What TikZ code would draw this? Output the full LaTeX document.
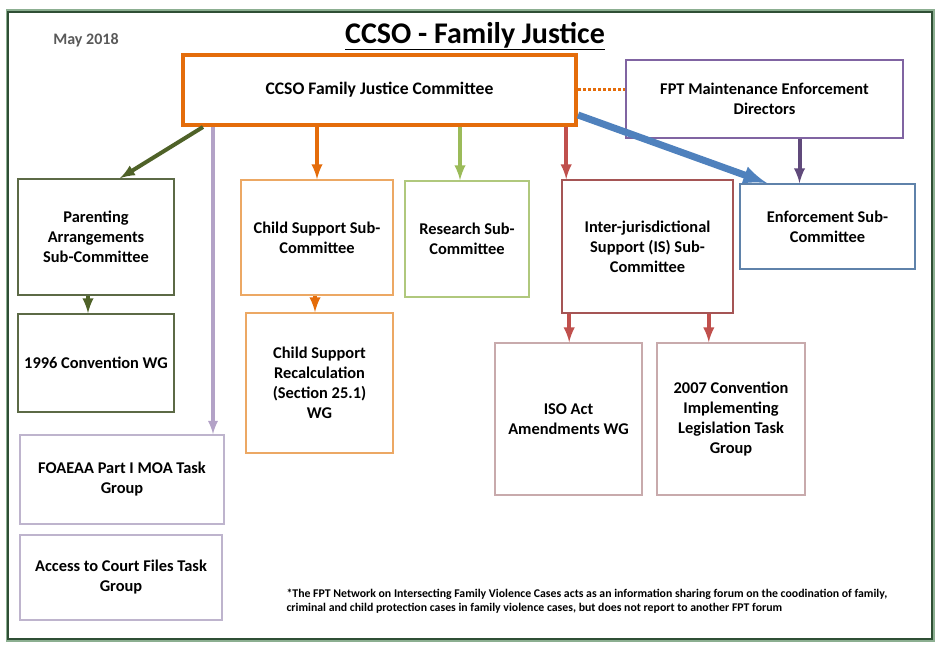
\documentclass[tikz,border=0pt]{standalone}
\usepackage{fontspec}
\setmainfont{Carlito}
\usetikzlibrary{positioning,arrows}
\tikzstyle{box} = [draw, rectangle, align=center, fill=white, line width=1.6pt, inner sep=2pt,
  font=\fontsize{16.4}{20}\selectfont\bfseries]
\tikzstyle{arr} = [line width=4pt, -latex]

\begin{document}
\begin{tikzpicture}[x=1pt, y=-1pt]
\definecolor{mainorange}{RGB}{228,108,10}
\definecolor{lightorange}{RGB}{236,168,100}
\definecolor{olive}{RGB}{79,98,40}
\definecolor{olivebox}{RGB}{92,106,70}
\definecolor{lavender}{RGB}{179,162,199}
\definecolor{lavbox}{RGB}{190,180,205}
\definecolor{leaf}{RGB}{155,187,89}
\definecolor{leafbox}{RGB}{176,200,125}
\definecolor{brick}{RGB}{192,80,77}
\definecolor{brickbox}{RGB}{165,85,85}
\definecolor{rosebox}{RGB}{200,170,172}
\definecolor{steel}{RGB}{79,129,189}
\definecolor{steelbox}{RGB}{95,130,170}
\definecolor{plum}{RGB}{128,100,162}
\definecolor{plumdark}{RGB}{96,74,123}
\definecolor{framedark}{RGB}{47,79,53}
\definecolor{framelight}{RGB}{140,175,145}
\useasboundingbox (0,0) rectangle (941,655);

% frame
\draw[framelight, line width=3pt] (7,11) rectangle (933,640);
\draw[framedark, line width=1.5pt] (8,12) rectangle (932,639);

% heading
\node[font=\fontsize{16}{18}\selectfont\bfseries, color=black!65] (date) at (86,40) {May 2018};
\node[font=\fontsize{30}{34}\selectfont\bfseries] (title) at (475,36) {\underline{CCSO - Family Justice}};

% top level
\node[box, draw=mainorange, line width=4pt, minimum width=393pt, minimum height=70pt,
  font=\fontsize{17.6}{21}\selectfont\bfseries] (main) at (379.5,90) {CCSO Family Justice Committee};
\node[box, draw=plum, minimum width=277pt, minimum height=78pt] (fpt) at (764.5,99) {FPT Maintenance Enforcement\\Directors};

% sub-committees
\node[box, draw=olivebox, minimum width=156pt, minimum height=116pt] (par) at (96,237) {Parenting\\Arrangements\\Sub-Committee};
\node[box, draw=lightorange, minimum width=152pt, minimum height=115pt] (cs) at (317,237.5) {Child Support Sub-\\Committee};
\node[box, draw=leafbox, minimum width=124pt, minimum height=116pt] (res) at (467,239) {Research Sub-\\Committee};
\node[box, draw=brickbox, minimum width=171pt, minimum height=133pt] (ij) at (647.5,246.5) {Inter-jurisdictional\\Support (IS) Sub-\\Committee};
\node[box, draw=steelbox, minimum width=175pt, minimum height=85pt] (enf) at (827.5,226.5) {Enforcement Sub-\\Committee};

% working groups
\node[box, draw=olivebox, minimum width=156pt, minimum height=98pt] (conv) at (96,363) {1996 Convention WG};
\node[box, draw=lavbox, minimum width=204pt, minimum height=89pt] (foa) at (122,479.5) {FOAEAA Part I MOA Task\\Group};
\node[box, draw=lavbox, minimum width=202pt, minimum height=85pt] (acc) at (121,577.5) {Access to Court Files Task\\Group};
\node[box, draw=lightorange, minimum width=147pt, minimum height=140pt] (csr) at (319.5,383) {Child Support\\Recalculation\\(Section 25.1)\\WG};
\node[box, draw=rosebox, minimum width=147pt, minimum height=152pt] (iso) at (568.5,419) {ISO Act\\Amendments WG};
\node[box, draw=rosebox, minimum width=148pt, minimum height=152pt] (conv07) at (731,419) {2007 Convention\\Implementing\\Legislation Task\\Group};

% connectors
\draw[mainorange, line width=3pt, dotted] (main.east) -- (main.east -| fpt.west);
\draw[arr, olive] ([xshift=22pt]main.south west) -- ([xshift=24pt]par.north);
\draw[arr, lavender, line width=3.5pt] ([xshift=32pt]main.south west) -- ([xshift=32pt]main.south west |- foa.north);
\draw[arr, mainorange] (cs.north |- main.south) -- (cs.north);
\draw[arr, leaf] ([xshift=-7pt]res.north |- main.south) -- ([xshift=-7pt]res.north);
\draw[arr, brick] ([xshift=5pt]ij.north west |- main.south) -- ([xshift=5pt]ij.north west);
\draw[arr, plumdark] ([xshift=35pt]fpt.south) -- ([xshift=35pt]fpt.south |- enf.north);
\draw[arr, steel, line width=7pt] ([yshift=12pt]main.south east) -- ([xshift=28pt]enf.north west);
\draw[arr, olive] ([xshift=-8pt]par.south) -- ([xshift=-8pt]conv.north);
\draw[arr, mainorange] ([xshift=-2pt]cs.south) -- ([xshift=-2pt]cs.south |- csr.north);
\draw[arr, brick] ([xshift=8pt]ij.south west) -- ([xshift=8pt]ij.south west |- iso.north);
\draw[arr, brick] ([xshift=-25pt]ij.south east) -- ([xshift=-25pt]ij.south east |- conv07.north);

% note
\node[anchor=west, align=left, font=\fontsize{11.8}{13.5}\selectfont\bfseries] (note) at (283,601)
  {*The FPT Network on Intersecting Family Violence Cases acts as an information sharing forum on the coodination of family,\\
   criminal and child protection cases in family violence cases, but does not report to another FPT forum};

\end{tikzpicture}
\end{document}
